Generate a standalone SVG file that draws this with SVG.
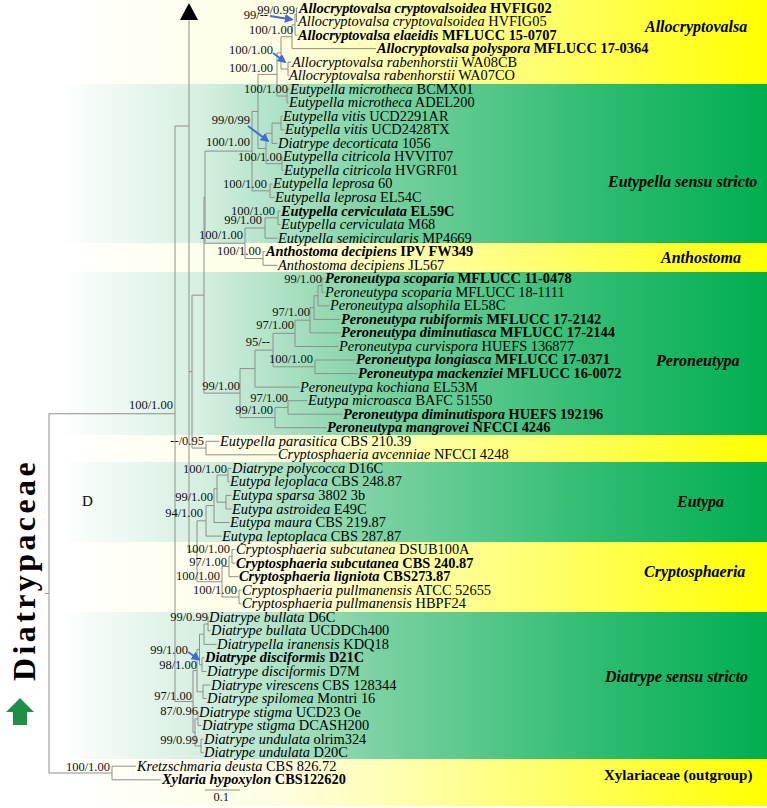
<svg xmlns="http://www.w3.org/2000/svg" width="767" height="808" viewBox="0 0 767 808">
<defs>
<linearGradient id="gY" gradientUnits="userSpaceOnUse" x1="70" y1="0" x2="767" y2="0">
<stop offset="0" stop-color="#ffffff"/><stop offset="0.3" stop-color="#fffde0"/><stop offset="0.5" stop-color="#ffffa8"/><stop offset="1" stop-color="#ffff00"/>
</linearGradient>
<linearGradient id="gG" gradientUnits="userSpaceOnUse" x1="60" y1="0" x2="767" y2="0">
<stop offset="0" stop-color="#ffffff"/><stop offset="0.2" stop-color="#d5efe0"/><stop offset="0.45" stop-color="#7bd1a2"/><stop offset="0.75" stop-color="#30bd72"/><stop offset="1" stop-color="#00ae50"/>
</linearGradient>
<marker id="ba" viewBox="0 0 10 10" refX="8" refY="5" markerWidth="4.5" markerHeight="4.5" orient="auto"><path d="M0,0 L10,5 L0,10 z" fill="#3b6fd4"/></marker>
<style>
.t{font-family:"Liberation Serif","Times New Roman",serif;font-size:14.4px;fill:#000}
.i{font-style:italic}
.b{font-weight:bold}
.s{font-family:"Liberation Serif","Times New Roman",serif;font-size:12.5px;fill:#111;text-anchor:end}
.c{font-family:"Liberation Serif","Times New Roman",serif;font-size:16px;font-weight:bold;font-style:italic;fill:#000}
.tree{fill:none;stroke:#8e8e8e;stroke-width:1}
.arr{stroke:#3b6fd4;stroke-width:2;fill:none;marker-end:url(#ba)}
</style>
</defs>
<rect width="767" height="808" fill="#fff"/>
<g id="bands">
<rect x="0" y="0" width="767" height="84" fill="url(#gY)"/>
<rect x="0" y="84" width="767" height="159" fill="url(#gG)"/>
<rect x="0" y="243" width="767" height="29" fill="url(#gY)"/>
<rect x="0" y="272" width="767" height="163" fill="url(#gG)"/>
<rect x="0" y="435" width="767" height="27" fill="url(#gY)"/>
<rect x="0" y="462" width="767" height="80" fill="url(#gG)"/>
<rect x="0" y="542" width="767" height="70" fill="url(#gY)"/>
<rect x="0" y="612" width="767" height="147" fill="url(#gG)"/>
<rect x="0" y="759" width="767" height="47" fill="url(#gY)"/>
</g>
<g id="connectors">
<path class="tree" d="M296.5,8 V21.5 M296.5,8 H298 M296.5,21.5 H297.5
M295,14.75 H296.5 M295,14.75 V35.1 M295,35.1 H297.5
M292,24.9 H295 M292,24.9 V48.6 M292,48.6 H376
M288,62.2 V75.7 M288,62.2 H291 M288,75.7 H288.5
M281,36.75 H292 M281,36.75 V69 M281,69 H288
M287,89.2 V102.8 M287,89.2 H289.5 M287,102.8 H288.5
M277,52.9 H281 M277,52.9 V96 M277,96 H287
M281,116.3 V129.9 M281,116.3 H282.5 M281,129.9 H284.5
M272,123.1 H281 M272,123.1 V143.4 M272,143.4 H277.5
M282,156.9 V170.5 M282,156.9 H282.5 M282,170.5 H283.5
M266,133.25 H272 M266,133.25 V163.7 M266,163.7 H282
M258,74.4 H277 M258,74.4 V148.5 M258,148.5 H266
M270,184 V197.6 M270,184 H272.5 M270,197.6 H274.5
M252,111.45 H258 M252,111.45 V190.8 M252,190.8 H270
M278,211.1 V224.6 M278,211.1 H280.5 M278,224.6 H280.5
M265,217.85 H278 M265,217.85 V238.2 M265,238.2 H277.5
M263,251.7 V265.3 M263,251.7 H265.5 M263,265.3 H277.5
M245,228 H265 M245,228 V258.5 M245,258.5 H263
M205,151.1 H252 M205,151.1 V243.25 M205,243.25 H245
M322,278.8 V292.3 M322,278.8 H324.5 M322,292.3 H324.5
M318,285.55 H322 M318,285.55 V305.9 M318,305.9 H329.5
M314,295.7 H318 M314,295.7 V319.4 M314,319.4 H340.5
M310,307.55 H314 M310,307.55 V332.9 M310,332.9 H340.5
M295,320.2 H310 M295,320.2 V346.5 M295,346.5 H338.5
M315,360 V373.6 M315,360 H355.5 M315,373.6 H357.5
M273,333.35 H295 M273,333.35 V366.8 M273,366.8 H315
M255,350.1 H273 M255,350.1 V387.1 M255,387.1 H299.5
M288,400.7 V414.2 M288,400.7 H307.5 M288,414.2 H342.5
M275,407.45 H288 M275,407.45 V427.7 M275,427.7 H326.5
M240,368.6 H255 M240,368.6 V417.6 M240,417.6 H275
M204,197.2 H205 M204,197.2 V393.1 M204,393.1 H240
M206,441.3 V454.8 M206,441.3 H219.5 M206,454.8 H277.5
M192,295.15 H204 M192,295.15 V448.05 M192,448.05 H206
M228,468.4 V481.9 M228,468.4 H231.5 M228,481.9 H229.5
M226,495.4 V509 M226,495.4 H231.5 M226,509 H231.5
M217,475.15 H228 M217,475.15 V502.2 M217,502.2 H226
M214,488.7 H217 M214,488.7 V522.5 M214,522.5 H229.5
M206,505.6 H214 M206,505.6 V536.1 M206,536.1 H221.5
M232,549.6 V563.1 M232,549.6 H235.5 M232,563.1 H235.5
M229,556.35 H232 M229,556.35 V576.7 M229,576.7 H238.5
M239,590.2 V603.8 M239,590.2 H241.5 M239,603.8 H241.5
M222,566.5 H229 M222,566.5 V597 M222,597 H239
M197,520.85 H206 M197,520.85 V581.75 M197,581.75 H222
M189,20 V551.3 M189,371.6 H192 M189,551.3 H197
M175,126 H189 M175,126 V701.5 M175,701.5 H193
M208,617.3 V630.8 M208,617.3 H208.5 M208,630.8 H210.5
M204,624.05 H208 M204,624.05 V644.4 M204,644.4 H216.5
M202,657.9 V671.5 M202,657.9 H204.5 M202,671.5 H206.5
M199.5,634.2 H204 M199.5,634.2 V664.7 M199.5,664.7 H202
M203,685 V698.5 M203,685 H210.5 M203,698.5 H206.5
M197,649.45 H199.5 M197,649.45 V691.75 M197,691.75 H203
M198,712.1 V725.6 M198,712.1 H198.5 M198,725.6 H201.5
M201,739.2 V752.7 M201,739.2 H203.5 M201,752.7 H203.5
M195,718.85 H198 M195,718.85 V745.95 M195,745.95 H201
M193,670.6 H197 M193,670.6 V732.4 M193,732.4 H195
M49,413.75 H175 M49,413.75 V773 M49,773 H112 M45,593.4 H49
M112,766.2 V779.8 M112,766.2 H136 M112,779.8 H161
M205,790 H240"/>
<path class="arr" d="M270,16 L292,19.5"/>
<path class="arr" d="M273,53 L285,62"/>
<path class="arr" d="M248,126 L268,141"/>
<path class="arr" d="M188,652 L199,659.5"/>
</g>
<g id="marker-top"><polygon points="189,3 180,20 198,20" fill="#000"/></g>
<g id="support">
<text class="s" x="295" y="14">99/0.99</text>
<text class="s" x="268" y="19">99/--</text>
<text class="s" x="293" y="34">100/1.00</text>
<text class="s" x="273" y="54">100/1.00</text>
<text class="s" x="273" y="72">100/1.00</text>
<text class="s" x="288" y="93">100/1.00</text>
<text class="s" x="250" y="124">99/0/99</text>
<text class="s" x="250" y="146">100/1.00</text>
<text class="s" x="282" y="161">100/1.00</text>
<text class="s" x="267" y="188">100/1.00</text>
<text class="s" x="275" y="215">100/1.00</text>
<text class="s" x="262" y="224">99/1.00</text>
<text class="s" x="243" y="239">100/1.00</text>
<text class="s" x="261" y="255">100/1.00</text>
<text class="s" x="322" y="283">99/1.00</text>
<text class="s" x="310" y="316">97/1.00</text>
<text class="s" x="294" y="329">97/1.00</text>
<text class="s" x="270" y="346">95/--</text>
<text class="s" x="313" y="363">100/1.00</text>
<text class="s" x="240" y="390">99/1.00</text>
<text class="s" x="288" y="402">97/1.00</text>
<text class="s" x="173" y="409">100/1.00</text>
<text class="s" x="273" y="414">99/1.00</text>
<text class="s" x="204" y="445">--/0.95</text>
<text class="s" x="227" y="473">100/1.00</text>
<text class="s" x="213" y="501">99/1.00</text>
<text class="s" x="203" y="517">94/1.00</text>
<text class="s" x="230" y="553">100/1.00</text>
<text class="s" x="227" y="566">97/1.00</text>
<text class="s" x="220" y="580">100/1.00</text>
<text class="s" x="237" y="594">100/1.00</text>
<text class="s" x="208" y="621">99/0.99</text>
<text class="s" x="188" y="654">99/1.00</text>
<text class="s" x="197" y="669">98/1.00</text>
<text class="s" x="192" y="700">97/1.00</text>
<text class="s" x="198" y="715">87/0.96</text>
<text class="s" x="198" y="744">99/0.99</text>
<text class="s" x="110" y="771">100/1.00</text>
<text class="s" x="229" y="801">0.1</text>
<text class="t" x="82" y="506" style="font-size:15px">D</text>
</g>
<g id="taxa">
<g id="t01"><text class="t b" x="299" y="13"><tspan class="i">Allocryptovalsa cryptovalsoidea</tspan> HVFIG02</text></g>
<g id="t02"><text class="t" x="298" y="26"><tspan class="i">Allocryptovalsa cryptovalsoidea</tspan> HVFIG05</text></g>
<g id="t03"><text class="t b" x="298" y="40"><tspan class="i">Allocryptovalsa elaeidis</tspan> MFLUCC 15-0707</text></g>
<g id="t04"><text class="t b" x="377" y="53"><tspan class="i">Allocryptovalsa polyspora</tspan> MFLUCC 17-0364</text></g>
<g id="t05"><text class="t" x="292" y="67"><tspan class="i">Allocryptovalsa rabenhorstii</tspan> WA08CB</text></g>
<g id="t06"><text class="t" x="289" y="80"><tspan class="i">Allocryptovalsa rabenhorstii</tspan> WA07CO</text></g>
<g id="t07"><text class="t" x="290" y="94"><tspan class="i">Eutypella microtheca</tspan> BCMX01</text></g>
<g id="t08"><text class="t" x="289" y="107"><tspan class="i">Eutypella microtheca</tspan> ADEL200</text></g>
<g id="t09"><text class="t" x="283" y="121"><tspan class="i">Eutypella vitis</tspan> UCD2291AR</text></g>
<g id="t10"><text class="t" x="285" y="134"><tspan class="i">Eutypella vitis</tspan> UCD2428TX</text></g>
<g id="t11"><text class="t" x="278" y="148"><tspan class="i">Diatrype decorticata</tspan> 1056</text></g>
<g id="t12"><text class="t" x="283" y="161"><tspan class="i">Eutypella citricola</tspan> HVVIT07</text></g>
<g id="t13"><text class="t" x="284" y="175"><tspan class="i">Eutypella citricola</tspan> HVGRF01</text></g>
<g id="t14"><text class="t" x="273" y="188"><tspan class="i">Eutypella leprosa</tspan> 60</text></g>
<g id="t15"><text class="t" x="275" y="202"><tspan class="i">Eutypella leprosa</tspan> EL54C</text></g>
<g id="t16"><text class="t b" x="281" y="216"><tspan class="i">Eutypella cerviculata</tspan> EL59C</text></g>
<g id="t17"><text class="t" x="281" y="229"><tspan class="i">Eutypella cerviculata</tspan> M68</text></g>
<g id="t18"><text class="t" x="278" y="243"><tspan class="i">Eutypella semicircularis</tspan> MP4669</text></g>
<g id="t19"><text class="t b" x="266" y="256"><tspan class="i">Anthostoma decipiens</tspan> IPV FW349</text></g>
<g id="t20"><text class="t" x="278" y="270"><tspan class="i">Anthostoma decipiens</tspan> JL567</text></g>
<g id="t21"><text class="t b" x="325" y="283"><tspan class="i">Peroneutypa scoparia</tspan> MFLUCC 11-0478</text></g>
<g id="t22"><text class="t" x="325" y="297"><tspan class="i">Peroneutypa scoparia</tspan> MFLUCC 18-1111</text></g>
<g id="t23"><text class="t" x="330" y="310"><tspan class="i">Peroneutypa alsophila</tspan> EL58C</text></g>
<g id="t24"><text class="t b" x="341" y="324"><tspan class="i">Peroneutypa rubiformis</tspan> MFLUCC 17-2142</text></g>
<g id="t25"><text class="t b" x="341" y="337"><tspan class="i">Peroneutypa diminutiasca</tspan> MFLUCC 17-2144</text></g>
<g id="t26"><text class="t" x="339" y="351"><tspan class="i">Peroneutypa curvispora</tspan> HUEFS 136877</text></g>
<g id="t27"><text class="t b" x="356" y="364"><tspan class="i">Peroneutypa longiasca</tspan> MFLUCC 17-0371</text></g>
<g id="t28"><text class="t b" x="358" y="378"><tspan class="i">Peroneutypa mackenziei</tspan> MFLUCC 16-0072</text></g>
<g id="t29"><text class="t" x="300" y="392"><tspan class="i">Peroneutypa kochiana</tspan> EL53M</text></g>
<g id="t30"><text class="t" x="308" y="405"><tspan class="i">Eutypa microasca</tspan> BAFC 51550</text></g>
<g id="t31"><text class="t b" x="343" y="419"><tspan class="i">Peroneutypa diminutispora</tspan> HUEFS 192196</text></g>
<g id="t32"><text class="t b" x="327" y="432"><tspan class="i">Peroneutypa mangrovei</tspan> NFCCI 4246</text></g>
<g id="t33"><text class="t" x="220" y="446"><tspan class="i">Eutypella parasitica</tspan> CBS 210.39</text></g>
<g id="t34"><text class="t" x="278" y="459"><tspan class="i">Cryptosphaeria avcenniae</tspan> NFCCI 4248</text></g>
<g id="t35"><text class="t" x="232" y="473"><tspan class="i">Diatrype polycocca</tspan> D16C</text></g>
<g id="t36"><text class="t" x="230" y="486"><tspan class="i">Eutypa lejoplaca</tspan> CBS 248.87</text></g>
<g id="t37"><text class="t" x="232" y="500"><tspan class="i">Eutypa sparsa</tspan> 3802 3b</text></g>
<g id="t38"><text class="t" x="232" y="514"><tspan class="i">Eutypa astroidea</tspan> E49C</text></g>
<g id="t39"><text class="t" x="230" y="527"><tspan class="i">Eutypa maura</tspan> CBS 219.87</text></g>
<g id="t40"><text class="t" x="222" y="541"><tspan class="i">Eutypa leptoplaca</tspan> CBS 287.87</text></g>
<g id="t41"><text class="t" x="236" y="554"><tspan class="i">Cryptosphaeria subcutanea</tspan> DSUB100A</text></g>
<g id="t42"><text class="t b" x="236" y="568"><tspan class="i">Cryptosphaeria subcutanea</tspan> CBS 240.87</text></g>
<g id="t43"><text class="t b" x="239" y="581"><tspan class="i">Cryptosphaeria ligniota</tspan> CBS273.87</text></g>
<g id="t44"><text class="t" x="242" y="595"><tspan class="i">Cryptosphaeria pullmanensis</tspan> ATCC 52655</text></g>
<g id="t45"><text class="t" x="242" y="608"><tspan class="i">Cryptosphaeria pullmanensis</tspan> HBPF24</text></g>
<g id="t46"><text class="t" x="209" y="622"><tspan class="i">Diatrype bullata</tspan> D6C</text></g>
<g id="t47"><text class="t" x="211" y="635"><tspan class="i">Diatrype bullata</tspan> UCDDCh400</text></g>
<g id="t48"><text class="t" x="217" y="649"><tspan class="i">Diatrypella iranensis</tspan> KDQ18</text></g>
<g id="t49"><text class="t b" x="205" y="662"><tspan class="i">Diatrype disciformis</tspan> D21C</text></g>
<g id="t50"><text class="t" x="207" y="676"><tspan class="i">Diatrype disciformis</tspan> D7M</text></g>
<g id="t51"><text class="t" x="211" y="690"><tspan class="i">Diatrype virescens</tspan> CBS 128344</text></g>
<g id="t52"><text class="t" x="207" y="703"><tspan class="i">Diatrype spilomea</tspan> Montri 16</text></g>
<g id="t53"><text class="t" x="199" y="717"><tspan class="i">Diatrype stigma</tspan> UCD23 Oe</text></g>
<g id="t54"><text class="t" x="202" y="730"><tspan class="i">Diatrype stigma</tspan> DCASH200</text></g>
<g id="t55"><text class="t" x="204" y="744"><tspan class="i">Diatrype undulata</tspan> olrim324</text></g>
<g id="t56"><text class="t" x="204" y="757"><tspan class="i">Diatrype undulata</tspan> D20C</text></g>
<g id="t57"><text class="t" x="137" y="771"><tspan class="i">Kretzschmaria deusta</tspan> CBS 826.72</text></g>
<g id="t58"><text class="t b" x="162" y="784"><tspan class="i">Xylaria hypoxylon</tspan> CBS122620</text></g>
</g>
<g id="clades">
<text class="c" x="645" y="32">Allocryptovalsa</text>
<text class="c" x="608" y="187">Eutypella sensu stricto</text>
<text class="c" x="661" y="263">Anthostoma</text>
<text class="c" x="656" y="366">Peroneutypa</text>
<text class="c" x="677" y="507">Eutypa</text>
<text class="c" x="644" y="577">Cryptosphaeria</text>
<text class="c" x="605" y="682">Diatrype sensu stricto</text>
<text class="c" x="604" y="780" style="font-style:normal;font-size:15px">Xylariaceae (outgroup)</text>
</g>
<g id="family">
<text transform="translate(35,681) rotate(-90)" style="font-family:'Liberation Serif','Times New Roman',serif;font-size:32px;font-weight:bold;letter-spacing:3.4px" fill="#000">Diatrypaceae</text>
<polygon points="20,698 34,712 27,712 27,725 13,725 13,712 6,712" fill="#1f8f47"/>
</g>
</svg>
